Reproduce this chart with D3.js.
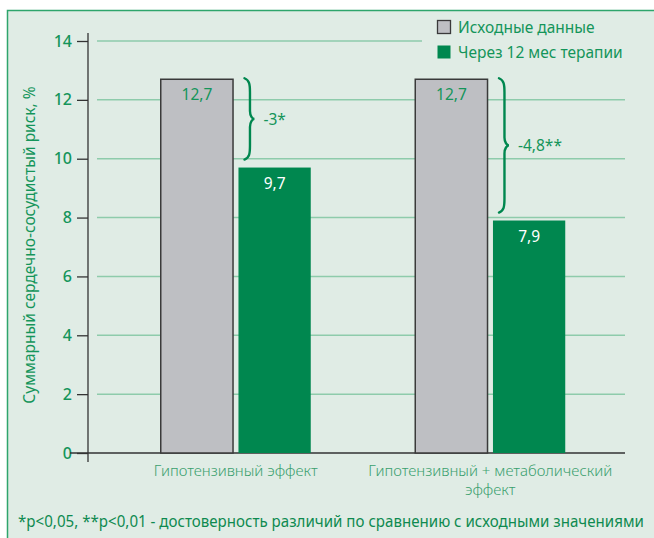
<!DOCTYPE html>
<html><head><meta charset="utf-8">
<script src="https://cdn.jsdelivr.net/npm/d3@7"></script>
<style>body{margin:0;background:#fff}svg{display:block}text{font-family:"Noto Sans","Open Sans",sans-serif}</style>
</head><body><svg id="c" width="654" height="538"></svg>
<script>
const categories = ["Гипотензивный эффект", "Гипотензивный + метаболический эффект"];
const categoryLines = [["Гипотензивный эффект"], ["Гипотензивный + метаболический", "эффект"]];
const seriesNames = ["Исходные данные", "Через 12 мес терапии"];
const baselineValues = [12.7, 12.7];
const afterValues = [9.7, 7.9];
const valueLabels = [["12,7", "9,7"], ["12,7", "7,9"]];
const diffLabels = ["-3*", "-4,8**"];
const yTicks = [0, 2, 4, 6, 8, 10, 12, 14];
const yTitle = "Суммарный сердечно-сосудистый риск, %";
const footnote = "*p<0,05, **p<0,01 - достоверность различий по сравнению с исходными значениями";

const GREEN = "#00874f", TXT = "#14955a", GRAY = "#bebfc3";
const svg = d3.select("#c");

// frame
svg.append("rect").attr("x", 7.5).attr("y", 10.5).attr("width", 660).attr("height", 540)
  .attr("fill", "#e0ece5").attr("stroke", "#2ea56c").attr("stroke-width", 1.5);

const y = d3.scaleLinear().domain([0, 14]).range([453, 41]);
const x0 = d3.scaleBand().domain(categories).range([108.5, 617.5]);
const x1 = d3.scaleBand().domain(seriesNames).range([-75, 75]).paddingInner(0.07);

// gridlines
svg.append("g").selectAll("line").data(yTicks.filter(d => d > 0)).join("line")
  .attr("x1", 97).attr("x2", d => d === 14 ? 422 : 625)
  .attr("y1", d => y(d)).attr("y2", d => y(d))
  .attr("stroke", "#8ecbab").attr("stroke-width", 1.5);

// y axis
const ya = svg.append("g").attr("transform", "translate(88,0)")
  .call(d3.axisLeft(y).tickValues(yTicks).tickSize(11).tickPadding(5).tickFormat(d3.format("d")));
ya.select(".domain").attr("d", "M0,33V462").attr("stroke", "#333").attr("stroke-width", 1.3);
ya.selectAll(".tick line").attr("stroke", "#333").attr("stroke-width", 1.3);
ya.selectAll(".tick text").attr("fill", TXT).attr("font-size", 16).attr("font-weight", 500);

// x axis baseline
svg.append("line").attr("x1", 70).attr("x2", 625).attr("y1", y(0)).attr("y2", y(0))
  .attr("stroke", "#333").attr("stroke-width", 1.3);

const groups = svg.append("g").selectAll("g").data(categories).join("g")
  .attr("transform", d => `translate(${x0(d) + x0.bandwidth() / 2},0)`);

groups.each(function (cat, i) {
  const g = d3.select(this);
  const vals = [baselineValues[i], afterValues[i]];
  vals.forEach((v, j) => {
    const s = seriesNames[j];
    g.append("rect").attr("x", x1(s)).attr("width", x1.bandwidth())
      .attr("y", y(v)).attr("height", y(0) - y(v))
      .attr("fill", j === 0 ? GRAY : GREEN)
      .attr("stroke", j === 0 ? "#3a3a3a" : "none").attr("stroke-width", 1.5);
    g.append("text").attr("x", x1(s) + x1.bandwidth() / 2).attr("y", y(v) + 21)
      .attr("text-anchor", "middle").attr("font-size", 15.5)
      .attr("fill", j === 0 ? TXT : "#fff").text(valueLabels[i][j]);
  });
  // brace
  const bx = x1(seriesNames[1]) + 6;
  const yt = y(vals[0]) - 1, yb = y(vals[1]) - 8;
  const ym = (yt + yb) / 2, w = 10;
  const p = `M${bx},${yt} C${bx + 5},${yt + 2} ${bx + w * 0.55},${yt + 6} ${bx + w * 0.55},${yt + 14}
    L${bx + w * 0.55},${ym - 8} C${bx + w * 0.55},${ym - 3} ${bx + w * 0.8},${ym} ${bx + w},${ym}
    C${bx + w * 0.8},${ym} ${bx + w * 0.55},${ym + 3} ${bx + w * 0.55},${ym + 8}
    L${bx + w * 0.55},${yb - 14} C${bx + w * 0.55},${yb - 6} ${bx + 5},${yb - 2} ${bx},${yb}`;
  g.append("path").attr("d", p).attr("fill", "none").attr("stroke", GREEN)
    .attr("stroke-width", 2.4).attr("stroke-linecap", "round");
  g.append("text").attr("x", bx + w + 9).attr("y", ym + 6).attr("font-size", 15.5)
    .attr("fill", TXT).text(diffLabels[i]);
  // category label
  categoryLines[i].forEach((line, k) => {
    g.append("text").attr("x", 0).attr("y", 476 + k * 19).attr("text-anchor", "middle")
      .attr("font-size", 15).attr("fill", "#3a9f6e").attr("font-weight", 300).text(line);
  });
});

// legend
const leg = svg.append("g");
seriesNames.forEach((s, j) => {
  leg.append("rect").attr("x", 437.5).attr("y", 20.5 + j * 25).attr("width", 13).attr("height", 13)
    .attr("fill", j === 0 ? GRAY : GREEN).attr("stroke", j === 0 ? "#3a3a3a" : "none").attr("stroke-width", 1.3);
  leg.append("text").attr("x", 458).attr("y", 32.5 + j * 25).attr("font-size", 15.5)
    .attr("fill", TXT).text(s);
});

// y title
svg.append("text").attr("transform", "translate(35,245) rotate(-90)").attr("text-anchor", "middle")
  .attr("font-size", 15.5).attr("fill", TXT).text(yTitle);

// footnote (horizontally condensed via scale to fit the width)
const fn = svg.append("text").attr("x", 0).attr("y", 0).attr("font-size", 15.5)
  .attr("fill", "#0e8a50").text(footnote);
const natural = fn.node().getComputedTextLength();
const sx = Math.min(1, 626 / natural);
fn.attr("transform", `translate(18,527) scale(${sx},1)`);
</script></body></html>
